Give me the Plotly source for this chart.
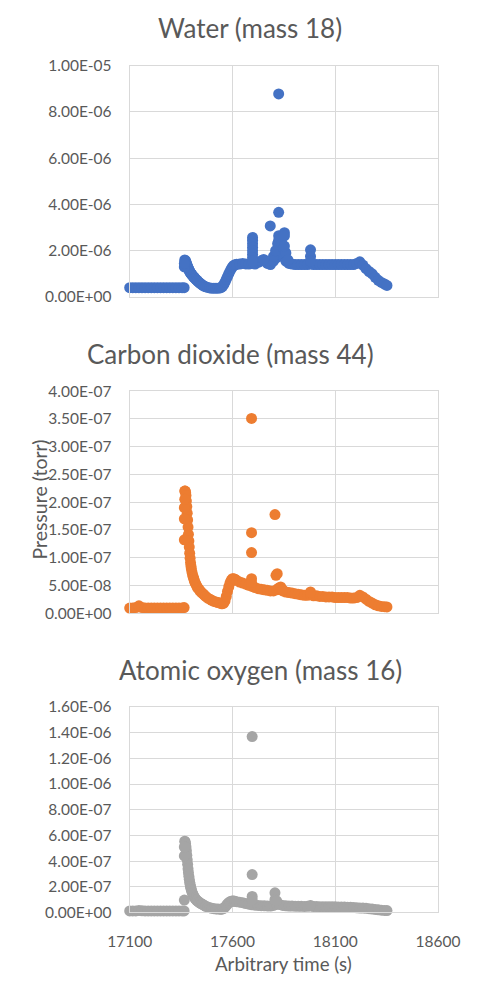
import plotly.graph_objects as go

# ---------------- data ----------------
# shared sampling times (s)
TIME = [
    17100, 17115, 17130, 17145, 17160, 17175, 17190, 17205, 17220, 17235,
    17250, 17265, 17280, 17295, 17310, 17325, 17340, 17355, 17365,
    17368, 17370, 17372, 17374, 17376, 17378, 17380, 17382, 17384, 17386,
    17388, 17390, 17392, 17394, 17396, 17398, 17400, 17403, 17406, 17409,
    17412, 17415, 17418, 17422, 17426, 17430, 17435, 17440, 17445, 17450,
    17456, 17462, 17470, 17480, 17490, 17500, 17510, 17520, 17530, 17540,
    17546, 17552, 17558, 17564, 17570, 17576, 17582, 17588, 17594, 17600,
    17606, 17612, 17620,
    17635, 17650, 17665, 17680, 17695, 17710, 17725, 17740, 17755, 17770,
    17785, 17800, 17815, 17830, 17845, 17860, 17875, 17890, 17905, 17920,
    17935, 17950, 17965, 17980, 17995, 18010, 18025, 18040, 18055, 18070,
    18085, 18100, 18115, 18130, 18145, 18160, 18175, 18190, 18205, 18220,
    18235, 18250, 18265, 18280, 18295, 18310, 18325, 18340, 18352,
]

# water, in units of 1e-6 torr
WATER_E6 = [
    0.40, 0.40, 0.40, 0.40, 0.40, 0.40, 0.40, 0.40, 0.40, 0.40,
    0.40, 0.40, 0.40, 0.40, 0.40, 0.40, 0.40, 0.40, 0.40,
    1.60, 1.58, 1.55, 1.50, 1.45, 1.40, 1.35, 1.30, 1.26, 1.22,
    1.18, 1.14, 1.10, 1.07, 1.04, 1.01, 0.99, 0.96, 0.92, 0.89,
    0.86, 0.83, 0.80, 0.76, 0.73, 0.69, 0.65, 0.61, 0.58, 0.54,
    0.50, 0.47, 0.44, 0.41, 0.39, 0.38, 0.38, 0.38, 0.38, 0.39,
    0.41, 0.46, 0.54, 0.64, 0.76, 0.88, 1.00, 1.11, 1.21, 1.30,
    1.36, 1.39, 1.41,
    1.42, 1.45, 1.43, 1.42, 1.45, 1.42, 1.50, 1.56, 1.58, 1.45,
    1.40, 1.55, 1.70, 1.85, 1.75, 1.55, 1.45, 1.42, 1.40, 1.40,
    1.40, 1.40, 1.40, 1.42, 1.40, 1.40, 1.40, 1.40, 1.40, 1.40,
    1.40, 1.40, 1.40, 1.40, 1.40, 1.40, 1.40, 1.40, 1.45, 1.52,
    1.38, 1.22, 1.10, 1.00, 0.85, 0.72, 0.63, 0.56, 0.50,
]

# carbon dioxide, in units of 1e-7 torr
CO2_E7 = [
    0.09, 0.09, 0.10, 0.13, 0.10, 0.09, 0.09, 0.09, 0.09, 0.09,
    0.09, 0.09, 0.09, 0.09, 0.09, 0.09, 0.09, 0.09, 0.10,
    2.20, 2.20, 2.18, 2.12, 2.02, 1.92, 1.80, 1.68, 1.55, 1.42,
    1.30, 1.19, 1.08, 0.99, 0.91, 0.85, 0.80, 0.74, 0.69, 0.65,
    0.62, 0.58, 0.55, 0.52, 0.49, 0.46, 0.44, 0.41, 0.39, 0.37,
    0.35, 0.33, 0.30, 0.27, 0.25, 0.23, 0.21, 0.20, 0.19, 0.18,
    0.17, 0.17, 0.18, 0.22, 0.30, 0.39, 0.47, 0.54, 0.59, 0.62,
    0.62, 0.61, 0.59,
    0.56, 0.54, 0.52, 0.50, 0.48, 0.46, 0.44, 0.43, 0.42, 0.41,
    0.40, 0.40, 0.42, 0.43, 0.40, 0.38, 0.37, 0.36, 0.35, 0.34,
    0.33, 0.32, 0.32, 0.33, 0.31, 0.31, 0.30, 0.30, 0.29, 0.29,
    0.29, 0.28, 0.28, 0.28, 0.28, 0.28, 0.27, 0.27, 0.28, 0.32,
    0.29, 0.25, 0.21, 0.18, 0.15, 0.13, 0.12, 0.115, 0.11,
]

# atomic oxygen, in units of 1e-7 torr
OXY_E7 = [
    0.12, 0.12, 0.12, 0.16, 0.13, 0.12, 0.12, 0.12, 0.12, 0.12,
    0.12, 0.12, 0.12, 0.12, 0.12, 0.12, 0.12, 0.12, 0.12,
    5.55, 5.50, 5.35, 5.10, 4.80, 4.45, 4.10, 3.75, 3.40, 3.10,
    2.82, 2.58, 2.36, 2.18, 2.02, 1.88, 1.76, 1.60, 1.47, 1.36,
    1.26, 1.18, 1.10, 1.02, 0.95, 0.89, 0.83, 0.77, 0.72, 0.67,
    0.62, 0.57, 0.48, 0.42, 0.37, 0.33, 0.30, 0.28, 0.27, 0.26,
    0.26, 0.28, 0.33, 0.42, 0.54, 0.66, 0.76, 0.83, 0.87, 0.89,
    0.89, 0.87, 0.84,
    0.80, 0.76, 0.70, 0.65, 0.60, 0.57, 0.55, 0.53, 0.52, 0.51,
    0.50, 0.55, 0.65, 0.62, 0.55, 0.52, 0.50, 0.50, 0.49, 0.48,
    0.48, 0.47, 0.48, 0.50, 0.46, 0.46, 0.45, 0.45, 0.45, 0.44,
    0.44, 0.44, 0.43, 0.43, 0.42, 0.41, 0.40, 0.38, 0.36, 0.35,
    0.34, 0.32, 0.30, 0.27, 0.24, 0.21, 0.18, 0.16, 0.15,
]

# isolated spikes / streak points
WATER_SPIKE_T = [17366, 17366,
                 17698, 17698, 17698, 17698, 17698, 17698, 17698, 17698,
                 17784, 17825, 17825, 17825, 17825, 17825, 17825, 17825,
                 17800, 17810, 17820, 17830, 17840, 17850, 17860, 17870,
                 17853, 17853, 17853, 17980, 17980, 17980, 17752]
WATER_SPIKE_E6 = [1.30, 1.45,
                  2.57, 2.45, 2.30, 2.15, 2.00, 1.85, 1.70, 1.55,
                  3.07, 8.78, 3.66, 2.65, 2.45, 2.30, 2.10, 1.90,
                  1.75, 2.00, 2.30, 2.50, 2.30, 2.10, 1.90, 1.60,
                  2.78, 2.64, 2.20, 2.04, 1.75, 1.55, 1.62]

CO2_SPIKE_T = [17366, 17366, 17366, 17368, 17693, 17693, 17693, 17693,
               17693, 17807, 17818, 17812, 17825, 17835, 17845, 17980]
CO2_SPIKE_E7 = [1.32, 1.70, 1.90, 2.05, 3.51, 1.45, 1.09, 0.62,
                0.55, 1.775, 0.71, 0.68, 0.45, 0.47, 0.42, 0.38]

OXY_SPIKE_T = [17366, 17366, 17366, 17696, 17696, 17696, 17696,
               17807, 17807, 17815, 17980]
OXY_SPIKE_E7 = [0.97, 4.40, 5.10, 13.7, 2.95, 1.25, 1.00,
                1.53, 1.00, 0.90, 0.55]

X_TICKS = [17100, 17600, 18100, 18600]
WATER_TICKS = [0, 2e-6, 4e-6, 6e-6, 8e-6, 1e-5]
CO2_TICKS = [0, 5e-8, 1e-7, 1.5e-7, 2e-7, 2.5e-7, 3e-7, 3.5e-7, 4e-7]
OXY_TICKS = [0, 2e-7, 4e-7, 6e-7, 8e-7, 1e-6, 1.2e-6, 1.4e-6, 1.6e-6]

TITLES = ["Water (mass 18)", "Carbon dioxide (mass 44)", "Atomic oxygen (mass 16)"]
COLORS = ["#4472C4", "#ED7D31", "#A5A5A5"]

# ---------------- figure ----------------
W, H = 482, 984
FONT = "Lato"
GREY = "#595959"
GRID = "#D9D9D9"

series = [
    (WATER_E6, 1e-6, WATER_SPIKE_T, WATER_SPIKE_E6, WATER_TICKS),
    (CO2_E7, 1e-7, CO2_SPIKE_T, CO2_SPIKE_E7, CO2_TICKS),
    (OXY_E7, 1e-7, OXY_SPIKE_T, OXY_SPIKE_E7, OXY_TICKS),
]

# plot areas in pixels: (top, bottom)
areas = [(56.7, 292.3), (388.3, 614.3), (710.0, 919.3)]
x_left, x_right = 118.5, 457.7

fig = go.Figure()
layout = dict(
    width=W, height=H, margin=dict(l=0, r=0, t=0, b=0),
    paper_bgcolor="white", plot_bgcolor="white", showlegend=False,
    font=dict(family=FONT, color=GREY),
)

for i, (vals, unit, st, sv, yt) in enumerate(series):
    n = "" if i == 0 else str(i + 1)
    xa, ya = "x" + n, "y" + n
    ys = [v * unit for v in vals]
    sy = [v * unit for v in sv]
    fig.add_trace(go.Scatter(x=TIME + st, y=ys + sy, mode="markers", xaxis=xa, yaxis=ya,
                             marker=dict(color=COLORS[i], size=11, line=dict(width=0)),
                             cliponaxis=False, hoverinfo="skip"))
    top, bot = areas[i]
    layout["xaxis" + n] = dict(
        domain=[x_left / W, x_right / W], range=[X_TICKS[0], X_TICKS[-1]],
        tickvals=X_TICKS, ticktext=[str(t) for t in X_TICKS],
        showticklabels=(i == 2), showgrid=True, gridcolor=GRID, gridwidth=1,
        showline=True, linecolor=GRID, linewidth=1, mirror=True,
        zeroline=False, ticks="", anchor=ya,
        tickfont=dict(family=FONT, size=15.5, color=GREY), ticklabelstandoff=15,
    )
    layout["yaxis" + n] = dict(
        domain=[1 - bot / H, 1 - top / H], range=[yt[0], yt[-1]],
        tickvals=yt, ticktext=[f"{t:.2E}" for t in yt],
        showgrid=True, gridcolor=GRID, gridwidth=1,
        showline=True, linecolor=GRID, linewidth=1, mirror=True,
        zeroline=False, ticks="", anchor=xa,
        tickfont=dict(family=FONT, size=15.5, color=GREY), ticklabelstandoff=14,
    )

title_pos = [(251, 18), (229.5, 350.5), (262.5, 672)]
annotations = []
for t, (px, py) in zip(TITLES, title_pos):
    annotations.append(dict(text=t, x=px / W, y=1 - py / H, xref="paper", yref="paper",
                            xanchor="center", yanchor="middle", showarrow=False,
                            font=dict(family=FONT, size=26, color=GREY)))
annotations.append(dict(text="Pressure (torr)", x=19.5 / W, y=1 - 499 / H, xref="paper",
                        yref="paper", xanchor="center", yanchor="middle", textangle=-90,
                        showarrow=False, font=dict(family=FONT, size=19.5, color=GREY)))
annotations.append(dict(text="Arbitrary time (s)", x=288.3 / W, y=1 - 972 / H, xref="paper",
                        yref="paper", xanchor="center", yanchor="middle",
                        showarrow=False, font=dict(family=FONT, size=18.7, color=GREY)))
layout["annotations"] = annotations

fig.update_layout(**layout)
fig.write_html("out.html")
